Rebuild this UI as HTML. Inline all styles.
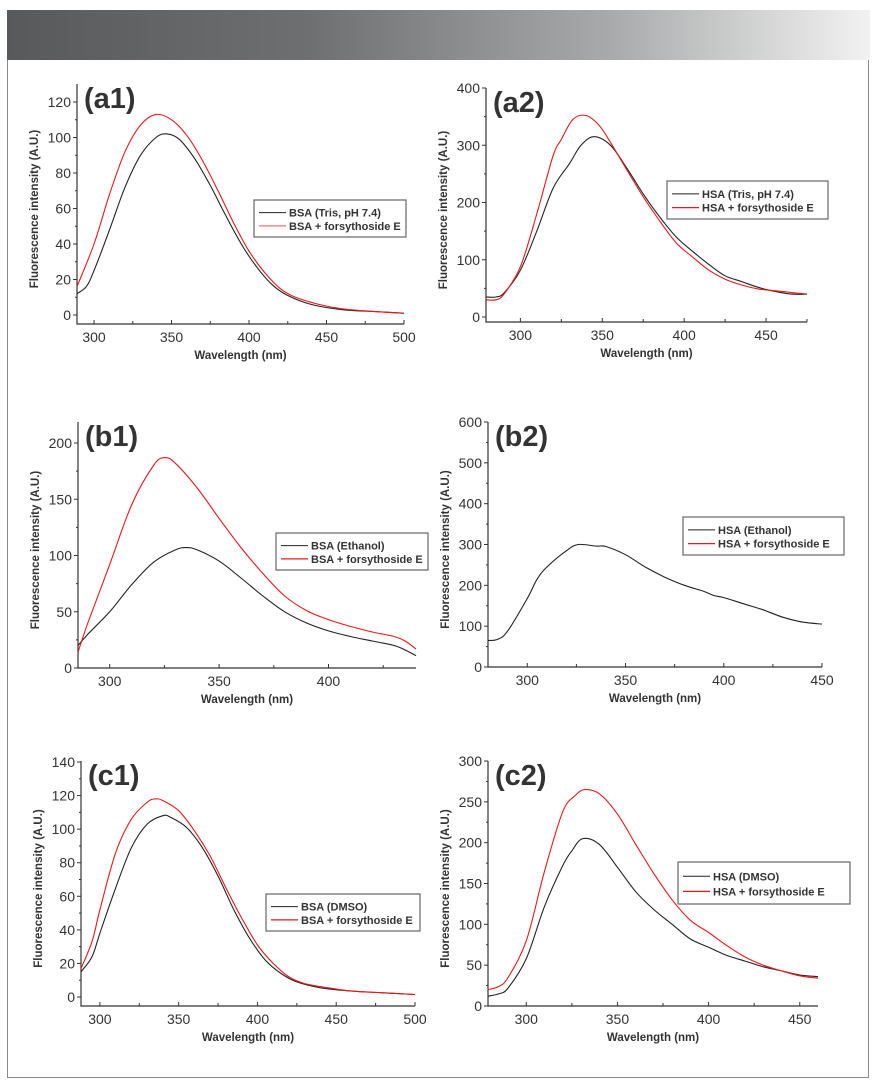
<!DOCTYPE html>
<html><head><meta charset="utf-8"><style>
html,body{margin:0;padding:0;background:#fff;}
body{width:878px;height:1090px;position:relative;overflow:hidden;font-family:"Liberation Sans",sans-serif;}
#banner{position:absolute;left:7px;top:10px;width:863px;height:50px;background:linear-gradient(90deg,#58595b 0%,#6e6f71 35%,#a9aaab 70%,#f2f2f2 100%);}
#frame{position:absolute;left:7px;top:60px;width:860px;height:1017px;border-left:1.5px solid #8a8a8a;border-right:1.5px solid #8a8a8a;border-bottom:1.5px solid #8a8a8a;}
svg{position:absolute;left:0;top:0;}
</style></head><body>
<div id="banner"></div>
<div id="frame"></div>
<svg id="chart" width="878" height="1090"></svg>
<script>
// ---- data (wavelength nm, intensity A.U.) ----
const a1BlackX=[289,295,300,310,320,330,340,347,355,365,375,385,395,405,415,425,440,460,480,500];
const a1BlackY=[12,16,25,48,72,90,100,102,99,88,73,56,40,27,17,11,6,3,2,1];
const a1RedX=[289,300,310,320,330,340,350,360,370,380,390,400,410,420,430,445,460,480,500];
const a1RedY=[16,40,68,92,107,113,110,101,87,70,52,36,24,15,10,6,3.5,2,1];
const a2BlackX=[279,285,290,300,310,320,330,337,345,355,365,375,385,395,405,415,425,435,445,455,465,475];
const a2BlackY=[35,35,42,82,150,225,268,300,315,300,260,215,175,140,115,92,72,62,52,45,40,40];
const a2RedX=[279,285,290,300,310,320,325,332,340,348,355,365,375,385,395,405,415,425,435,445,455,465,475];
const a2RedY=[30,30,40,88,180,282,310,345,352,335,305,257,210,168,130,105,82,66,56,49,46,43,40];
const b1BlackX=[285.5,290,300,310,320,330,335,340,350,360,370,380,390,400,410,420,430,435,440];
const b1BlackY=[20,30,50,74,94,105,107,105,95,80,64,50,40,33,28,24,20,16,11];
const b1RedX=[285.5,290,300,310,320,325,330,340,350,360,370,380,390,400,410,420,430,435,440];
const b1RedY=[14,40,92,145,180,187,182,160,133,107,84,64,51,43,37,32,28,24,17];
const b2BlackX=[280,285,290,300,305,310,320,326,335,340,350,360,370,380,390,395,400,410,420,430,440,450];
const b2BlackY=[65,68,88,168,215,245,285,300,296,295,275,245,220,200,185,175,170,155,140,122,110,105];
const b2RedX=[];
const b2RedY=[];
const c1BlackX=[288,295,300,310,320,330,340,345,355,365,375,385,395,405,415,425,440,460,480,500];
const c1BlackY=[15,24,38,65,89,103,108,107,101,89,72,52,35,22,14,9,5.5,3.5,2.5,1.5];
const c1RedX=[288,295,300,310,320,330,335,340,350,360,370,380,390,400,410,420,430,445,460,480,500];
const c1RedY=[17,33,52,86,106,116,118,117,111,99,84,65,47,31,20,12,8,5.5,3.5,2.5,1.5];
const c2BlackX=[279,285,290,300,310,320,325,331,340,350,360,370,380,390,400,410,420,430,440,450,460];
const c2BlackY=[12,15,22,58,122,172,190,205,198,170,140,118,100,82,72,62,55,48,43,38,36];
const c2RedX=[279,285,290,300,310,320,327,332,340,350,360,370,380,390,400,410,420,430,440,450,460];
const c2RedY=[20,24,35,80,165,238,258,265,260,235,198,162,130,105,90,74,60,50,43,37,34];
// tick labels
const a1XTicks=[300,350,400,450,500], a1YTicks=[0,20,40,60,80,100,120];
const a2XTicks=[300,350,400,450], a2YTicks=[0,100,200,300,400];
const b1XTicks=[300,350,400], b1YTicks=[0,50,100,150,200];
const b2XTicks=[300,350,400,450], b2YTicks=[0,100,200,300,400,500,600];
const c1XTicks=[300,350,400,450,500], c1YTicks=[0,20,40,60,80,100,120,140];
const c2XTicks=[300,350,400,450], c2YTicks=[0,50,100,150,200,250,300];

const NS="http://www.w3.org/2000/svg";
const svg=document.getElementById('chart');
function mk(tag,attrs,parent){const e=document.createElementNS(NS,tag);for(const k in attrs)e.setAttribute(k,attrs[k]);(parent||svg).appendChild(e);return e;}
function smoothPath(pts){
  let d='M'+pts[0][0].toFixed(1)+','+pts[0][1].toFixed(1);
  for(let i=0;i<pts.length-1;i++){
    const p0=pts[i-1]||pts[i],p1=pts[i],p2=pts[i+1],p3=pts[i+2]||p2;
    const c1x=p1[0]+(p2[0]-p0[0])/6,c1y=p1[1]+(p2[1]-p0[1])/6;
    const c2x=p2[0]-(p3[0]-p1[0])/6,c2y=p2[1]-(p3[1]-p1[1])/6;
    d+=' C'+c1x.toFixed(1)+','+c1y.toFixed(1)+' '+c2x.toFixed(1)+','+c2y.toFixed(1)+' '+p2[0].toFixed(1)+','+p2[1].toFixed(1);
  }
  return d;
}
function panel(cfg){
  const g=mk('g',{});
  
  
  const xs=v=>cfg.left+(v-cfg.xmin)/(cfg.xmax-cfg.xmin)*(cfg.right-cfg.left);
  const ys=v=>cfg.y0+(cfg.yt-cfg.y0)*v/cfg.ytv;
  const ax=mk('path',{d:`M${cfg.left},${cfg.top} V${cfg.axisY} H${cfg.right}`,stroke:'#333',fill:'none','stroke-width':1.2},g);
  
  
  // y ticks
  cfg.yt_.forEach((v,i)=>{
    const y=ys(v);
    mk('line',{x1:cfg.left-4,x2:cfg.left,y1:y,y2:y,stroke:'#333','stroke-width':1},g);
    const t=mk('text',{x:cfg.left-6,y:y+5,'text-anchor':'end','font-size':14,fill:'#333'},g);
    t.textContent=v;
    
    
    if(i<cfg.yt_.length-1){const m=ys((v+cfg.yt_[i+1])/2);mk('line',{x1:cfg.left-2,x2:cfg.left,y1:m,y2:m,stroke:'#333','stroke-width':1},g);}
  });
  cfg.xt_.forEach((v,i)=>{
    const x=xs(v);
    mk('line',{x1:x,x2:x,y1:cfg.axisY,y2:cfg.axisY-4,stroke:'#333','stroke-width':1},g);
    const t=mk('text',{x:x,y:cfg.axisY+18,'text-anchor':'middle','font-size':14,fill:'#333'},g);
    t.textContent=v;
    
    
    const m=x+25*(cfg.right-cfg.left)/(cfg.xmax-cfg.xmin);
    if(m<cfg.right)mk('line',{x1:m,x2:m,y1:cfg.axisY,y2:cfg.axisY-3,stroke:'#333','stroke-width':1},g);
  });
  const xt=mk('text',{x:(cfg.left+cfg.right)/2,y:cfg.axisY+35,'text-anchor':'middle','font-size':11.5,'font-weight':'bold',fill:'#333'},g);
  xt.textContent='Wavelength (nm)';
  
  
  const cy=(cfg.top+cfg.axisY)/2+5;
  const yt=mk('text',{x:0,y:0,transform:`translate(${cfg.left-39},${cy}) rotate(-90)`,'text-anchor':'middle','font-size':11.5,'font-weight':'bold',fill:'#333'},g);
  yt.textContent='Fluorescence intensity (A.U.)';
  
  
  const lb=mk('text',{x:cfg.left+7,y:cfg.top+24,'font-size':29,'font-weight':'bold',fill:'#333'},g);
  lb.textContent=cfg.label;
  
  
  // series
  [[cfg.bx,cfg.by,'#222','black'],[cfg.rx,cfg.ry,cfg.redColor||'#e8171c','red']].forEach(s=>{
    if(!s[0].length)return;
    const pts=s[0].map((x,i)=>[xs(x),ys(s[1][i])]);
    const p=mk('path',{d:smoothPath(pts),stroke:s[2],fill:'none','stroke-width':1.1},g);
    
    
  });
  // legend
  const L=cfg.leg;
  const lg=mk('g',{},g);
  
  
  mk('rect',{x:L[0],y:L[1],width:L[2],height:L[3],fill:'#fff',stroke:'#666','stroke-width':1.2},lg);
  const r1=L[1]+L[3]*0.34+4, r2=L[1]+L[3]*0.7+4;
  mk('line',{x1:L[0]+5,x2:L[0]+32,y1:r1-4,y2:r1-4,stroke:'#222','stroke-width':1},lg);
  mk('line',{x1:L[0]+5,x2:L[0]+32,y1:r2-4,y2:r2-4,stroke:cfg.legRed||'#e8171c','stroke-width':1.2},lg);
  const t1=mk('text',{x:L[0]+35,y:r1,'font-size':11,'font-weight':'bold',fill:'#333'},lg);t1.textContent=cfg.l1;
  
  
  const t2=mk('text',{x:L[0]+35,y:r2,'font-size':11,'font-weight':'bold',fill:'#333'},lg);t2.textContent=cfg.l2;
  
  
}
panel({id:'a1',label:'(a1)',left:77,right:404,xmin:289,xmax:500,top:84,axisY:324,y0:315,yt:102,ytv:120,xt_:a1XTicks,yt_:a1YTicks,bx:a1BlackX,by:a1BlackY,rx:a1RedX,ry:a1RedY,leg:[254,200,152,37],l1:'BSA (Tris, pH 7.4)',l2:'BSA + forsythoside E',legRed:'#f07070'});
panel({id:'a2',label:'(a2)',left:486,right:807,xmin:279,xmax:475,top:88,axisY:322,y0:317,yt:88,ytv:400,xt_:a2XTicks,yt_:a2YTicks,bx:a2BlackX,by:a2BlackY,rx:a2RedX,ry:a2RedY,leg:[667,181,161,38],l1:'HSA (Tris, pH 7.4)',l2:'HSA + forsythoside E'});
panel({id:'b1',label:'(b1)',left:78,right:416,xmin:285.5,xmax:440,top:422,axisY:668,y0:668,yt:443,ytv:200,xt_:b1XTicks,yt_:b1YTicks,bx:b1BlackX,by:b1BlackY,rx:b1RedX,ry:b1RedY,leg:[276,533,152,37],l1:'BSA (Ethanol)',l2:'BSA + forsythoside E'});
panel({id:'b2',label:'(b2)',left:488,right:822,xmin:280,xmax:450,top:422,axisY:667,y0:667,yt:422,ytv:600,xt_:b2XTicks,yt_:b2YTicks,bx:b2BlackX,by:b2BlackY,rx:b2RedX,ry:b2RedY,leg:[683,517,161,38],l1:'HSA (Ethanol)',l2:'HSA + forsythoside E'});
panel({id:'c1',label:'(c1)',left:81,right:415,xmin:288,xmax:500,top:761,axisY:1006,y0:997,yt:762,ytv:140,xt_:c1XTicks,yt_:c1YTicks,bx:c1BlackX,by:c1BlackY,rx:c1RedX,ry:c1RedY,leg:[266,894,154,37],l1:'BSA (DMSO)',l2:'BSA + forsythoside E'});
panel({id:'c2',label:'(c2)',left:488,right:818,xmin:279,xmax:460,top:761,axisY:1006,y0:1006,yt:761,ytv:300,xt_:c2XTicks,yt_:c2YTicks,bx:c2BlackX,by:c2BlackY,rx:c2RedX,ry:c2RedY,leg:[678,862,172,42],l1:'HSA (DMSO)',l2:'HSA + forsythoside E'});
</script>
</body></html>
